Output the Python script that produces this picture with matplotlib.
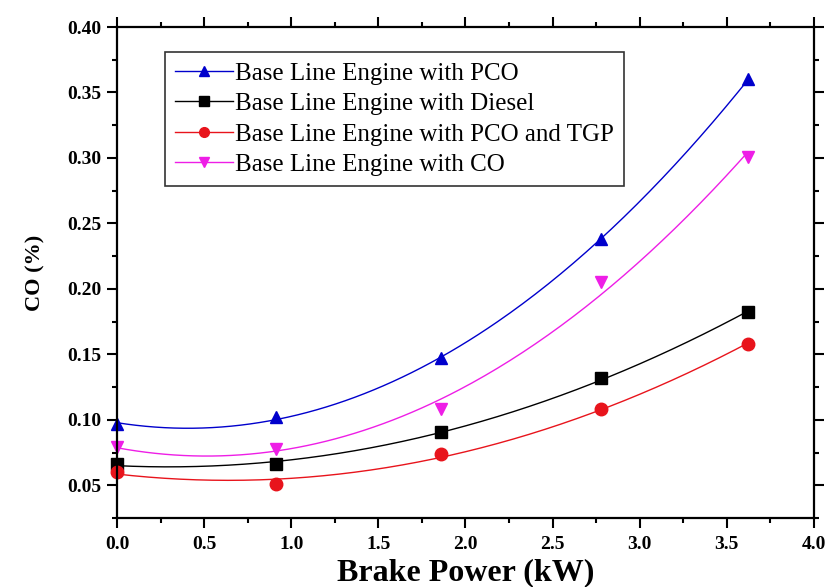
"""CO emission vs brake power for four engine configurations."""
import matplotlib
matplotlib.use('Agg')
import matplotlib.pyplot as plt
import numpy as np
from matplotlib.ticker import MultipleLocator, FormatStrFormatter

plt.rcParams['font.family'] = ['Liberation Serif', 'DejaVu Serif']

# Data
brake_power = [0.0, 0.91, 1.86, 2.78, 3.62]
co_pco = [0.097, 0.102, 0.147, 0.238, 0.360]
co_diesel = [0.066, 0.066, 0.091, 0.132, 0.182]
co_pco_tgp = [0.060, 0.051, 0.074, 0.108, 0.158]
co_co = [0.079, 0.078, 0.108, 0.205, 0.301]

series = [
    ('Base Line Engine with PCO', co_pco, '#0000cc', '^'),
    ('Base Line Engine with Diesel', co_diesel, 'black', 's'),
    ('Base Line Engine with PCO and TGP', co_pco_tgp, '#e8141c', 'o'),
    ('Base Line Engine with CO', co_co, '#ee1ee6', 'v'),
]

fig = plt.figure(figsize=(8.31, 5.87), dpi=100)
ax = fig.add_axes([0.1408, 0.1175, 0.8387, 0.8365])

xs = np.linspace(brake_power[0], brake_power[-1], 200)
for label, values, color, marker in series:
    # second order polynomial fit, as in the original figure
    coeffs = np.polyfit(brake_power, values, 2)
    ax.plot(xs, np.polyval(coeffs, xs), color=color, lw=1.0)
    ax.plot(brake_power, values, linestyle='none', marker=marker, color=color,
            markersize=9, clip_on=False)
    ax.plot([], [], color=color, lw=1.0, marker=marker, markersize=7, label=label)

ax.set_xlim(0, 4.0)
ax.set_ylim(0.025, 0.40)
ax.xaxis.set_major_locator(MultipleLocator(0.5))
ax.xaxis.set_minor_locator(MultipleLocator(0.25))
ax.yaxis.set_major_locator(MultipleLocator(0.05))
ax.yaxis.set_minor_locator(MultipleLocator(0.025))
ax.xaxis.set_major_formatter(FormatStrFormatter('%.1f'))
ax.yaxis.set_major_formatter(FormatStrFormatter('%.2f'))

ax.tick_params(which='both', direction='out', top=True, right=True, width=1.5,
               labelsize=14)
ax.tick_params(axis='x', pad=6)
ax.tick_params(axis='y', pad=4)
ax.tick_params(which='major', length=7)
ax.tick_params(which='minor', length=3.8)
for lbl in ax.get_xticklabels() + ax.get_yticklabels():
    lbl.set_fontweight('bold')
for spine in ax.spines.values():
    spine.set_linewidth(1.6)

ax.set_xlabel('Brake Power (kW)', fontsize=23, fontweight='bold', labelpad=4)
ax.set_ylabel('CO (%)', fontsize=16, fontweight='bold', labelpad=16)

leg = ax.legend(loc='upper left', bbox_to_anchor=(0.069, 0.949), fontsize=18,
                frameon=True, fancybox=False, edgecolor='black',
                handlelength=2.3, handletextpad=0.1, borderpad=0.4,
                borderaxespad=0, labelspacing=0.32)
leg.get_frame().set_linewidth(1.2)

fig.savefig('out.png', dpi=100)
